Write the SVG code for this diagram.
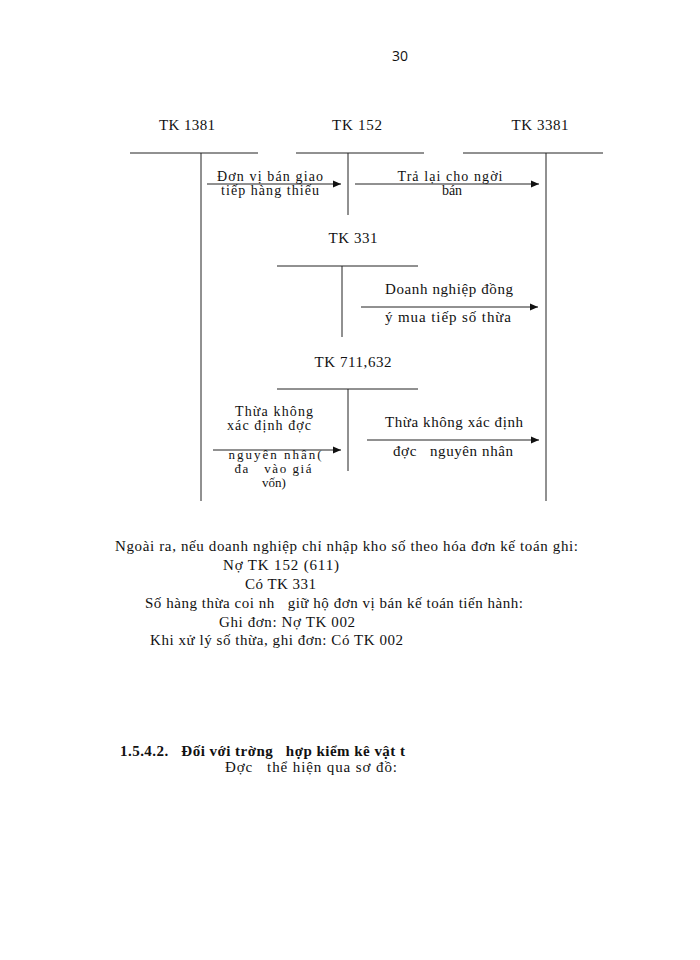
<svg xmlns="http://www.w3.org/2000/svg" width="700" height="960" viewBox="0 0 700 960">
<style>
.t{font-family:"Liberation Serif","Times New Roman",serif;font-size:15px;fill:#111}
.s{font-size:14px}
.xs{font-size:13px}
.c{text-anchor:middle}
.b{font-weight:bold}
.ln{stroke:#222;stroke-width:1;fill:none}
.ar{stroke:#222;stroke-width:1;fill:none;marker-end:url(#ah)}
</style>
<defs>
<marker id="ah" markerWidth="9" markerHeight="8" refX="8" refY="4" orient="auto" markerUnits="userSpaceOnUse">
<path d="M0,0.5 L8,4 L0,7.5 Z" fill="#111"/>
</marker>
</defs>
<rect width="700" height="960" fill="#fff"/>
<text x="400" y="61" style="font-family:'Open Sans','Liberation Sans',sans-serif;font-size:14px;fill:#111" text-anchor="middle">30</text>

<g id="tk1381">
<text class="t c" x="187" y="130" textLength="56">TK 1381</text>
<line class="ln" x1="130" y1="153" x2="258" y2="153"/>
<line class="ln" x1="201" y1="153" x2="201" y2="501"/>
</g>
<g id="tk152">
<text class="t c" x="357" y="130" textLength="50">TK 152</text>
<line class="ln" x1="296" y1="153" x2="424" y2="153"/>
<line class="ln" x1="348" y1="153" x2="348" y2="215"/>
</g>
<g id="tk3381">
<text class="t c" x="540" y="130" textLength="57">TK 3381</text>
<line class="ln" x1="463" y1="153" x2="603" y2="153"/>
<line class="ln" x1="546" y1="153" x2="546" y2="501"/>
</g>
<g id="tk331">
<text class="t c" x="353" y="243" textLength="49">TK 331</text>
<line class="ln" x1="277" y1="266" x2="418" y2="266"/>
<line class="ln" x1="342" y1="266" x2="342" y2="337"/>
</g>
<g id="tk711">
<text class="t c" x="353" y="367" textLength="77">TK 711,632</text>
<line class="ln" x1="277" y1="389" x2="418" y2="389"/>
<line class="ln" x1="348" y1="389" x2="348" y2="471"/>
</g>

<g id="connectors">
<line class="ar" x1="207" y1="184" x2="341" y2="184"/>
<line class="ar" x1="355" y1="184" x2="539" y2="184"/>
<line class="ar" x1="361" y1="307" x2="538" y2="307"/>
<line class="ar" x1="213" y1="450" x2="341" y2="450"/>
<line class="ar" x1="367" y1="440" x2="539" y2="440"/>
</g>

<g id="labels">
<text class="t s c" x="270" y="181" textLength="106">Đơn vị bán giao</text>
<text class="t s c" x="270" y="195" textLength="98">tiếp hàng thiếu</text>
<text class="t s c" x="450" y="181" textLength="105">Trả lại cho ngời</text>
<text class="t s c" x="452" y="195">bán</text>
<text class="t c" x="449" y="294" textLength="128">Doanh nghiệp đồng</text>
<text class="t c" x="448" y="322" textLength="126">ý mua tiếp số thừa</text>
<text class="t s c" x="274" y="416" textLength="78">Thừa không</text>
<text class="t s c" x="269" y="430" textLength="84">xác định đợc</text>
<text class="t xs c" x="275" y="459" textLength="93">nguyên nhân(</text>
<text class="t xs c" x="273" y="473" textLength="77" xml:space="preserve">đa   vào giá</text>
<text class="t xs c" x="274" y="487">vốn)</text>
<text class="t c" x="454" y="427" textLength="138">Thừa không xác định</text>
<text class="t c" x="453" y="456" textLength="120" xml:space="preserve">đợc   nguyên nhân</text>
</g>

<g id="body">
<text class="t" x="115" y="551" textLength="463">Ngoài ra, nếu doanh nghiệp chỉ nhập kho số theo hóa đơn kế toán ghi:</text>
<text class="t" x="223" y="570" textLength="116">Nợ TK 152 (611)</text>
<text class="t" x="245" y="589" textLength="71">Có TK 331</text>
<text class="t" x="145" y="608" textLength="378" xml:space="preserve">Số hàng thừa coi nh   giữ hộ đơn vị bán kế toán tiến hành:</text>
<text class="t" x="219" y="627" textLength="136">Ghi đơn: Nợ TK 002</text>
<text class="t" x="150" y="645" textLength="253">Khi xử lý số thừa, ghi đơn: Có TK 002</text>
<text class="t b" x="120" y="756" textLength="285" xml:space="preserve">1.5.4.2.   Đối với trờng   hợp kiểm kê vật t</text>
<text class="t" x="225" y="772" textLength="172" xml:space="preserve">Đợc   thể hiện qua sơ đồ:</text>
</g>
</svg>
